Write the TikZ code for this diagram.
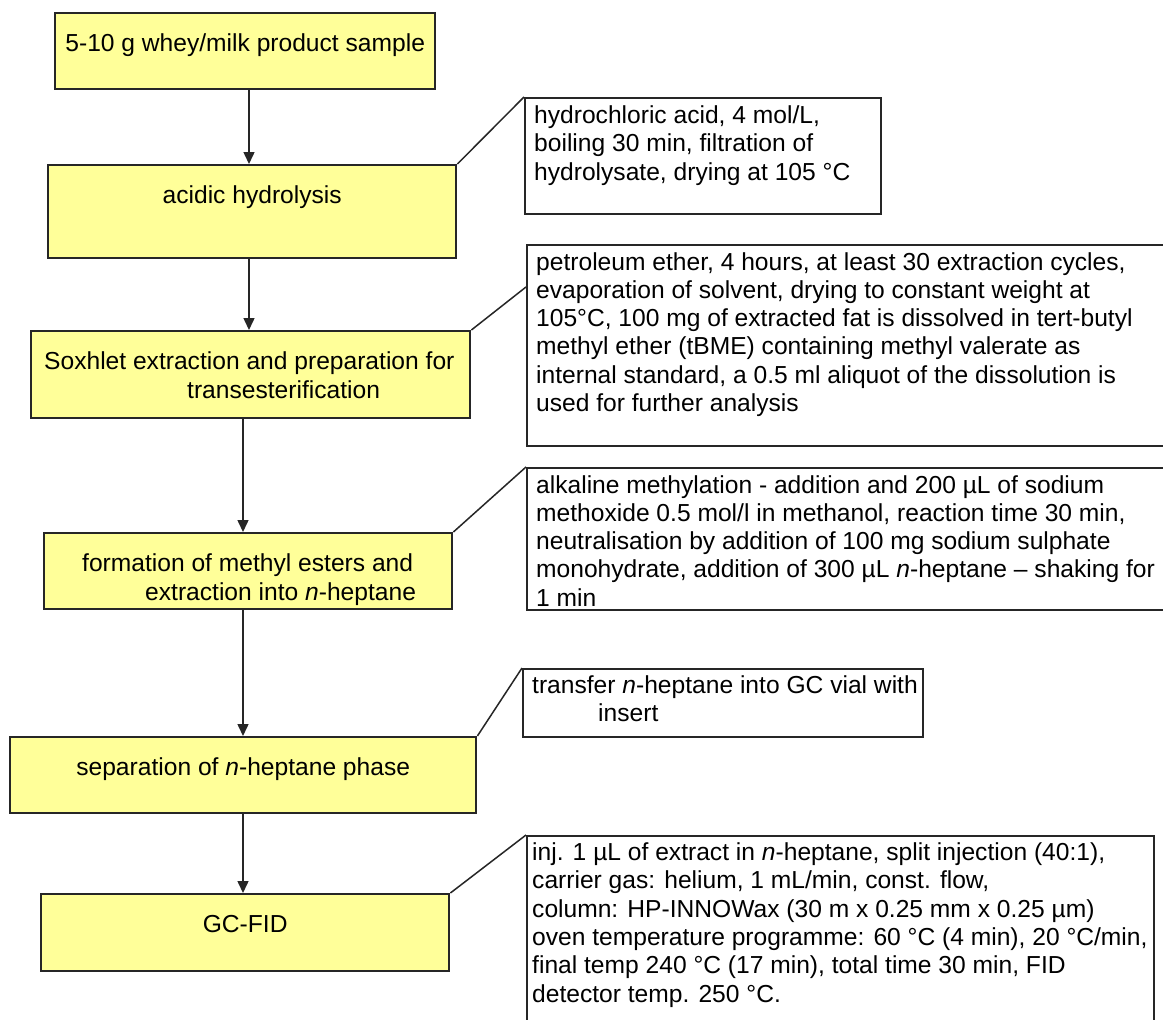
\documentclass[tikz,border=0pt]{standalone}
\usepackage{fontspec}
\setmainfont{Liberation Sans}
\usetikzlibrary{arrows.meta}
\definecolor{ylw}{HTML}{FFFF99}
\definecolor{edge}{HTML}{262626}
\tikzset{
  ybox/.style={draw=edge, fill=ylw, line width=2.4pt, inner sep=0pt, anchor=north west},
  wbox/.style={draw=edge, fill=white, line width=2.4pt, inner sep=0pt, anchor=north west},
  txt/.style={inner sep=0pt, align=left, anchor=north west, font=\fontsize{24.6}{28.3}\selectfont},
  ctxt/.style={inner sep=0pt, align=center, anchor=north, font=\fontsize{24.6}{28.3}\selectfont},
  arr/.style={draw=edge, line width=1.5pt, -{Triangle[length=12pt,width=11pt]}},
  conn/.style={draw=edge, line width=1.5pt},
}
\begin{document}
\begin{tikzpicture}[x=1pt,y=-1pt]
\useasboundingbox[fill=white] (0,0) rectangle (1163,1020);
% main steps
\node[ybox, minimum width=380pt, minimum height=76pt] (b1) at (54,12) {};
\node[ybox, minimum width=408pt, minimum height=93pt] (b2) at (47,164) {};
\node[ybox, minimum width=439pt, minimum height=87pt] (b3) at (30,330) {};
\node[ybox, minimum width=408pt, minimum height=76pt] (b4) at (43,532) {};
\node[ybox, minimum width=466pt, minimum height=76pt] (b5) at (9,736) {};
\node[ybox, minimum width=408pt, minimum height=77pt] (b6) at (40,893) {};
% step texts
\node[ctxt] (t1) at ([yshift=-19.7pt]b1.north) {\strut 5-10 g whey/milk product sample};
\node[ctxt] (t2) at ([yshift=-19.7pt]b2.north) {\strut acidic hydrolysis};
\node[txt] (t3) at ([xshift=14pt,yshift=-19.7pt]b3.north west) {\strut Soxhlet extraction and preparation for\\\hspace*{143pt}transesterification};
\node[txt] (t4) at ([xshift=39pt,yshift=-19.7pt]b4.north west) {\strut formation of methyl esters and\\\hspace*{63pt}extraction into \textit{n}-heptane};
\node[ctxt] (t5) at ([yshift=-19.7pt]b5.north) {\strut separation of \textit{n}-heptane phase};
\node[ctxt] (t6) at ([yshift=-19.7pt]b6.north) {\strut GC-FID};
% arrows
\coordinate (ax1) at (249,0);
\coordinate (ax2) at (243,0);
\draw[arr] (b1.south -| ax1) -- (b2.north -| ax1);
\draw[arr] (b2.south -| ax1) -- (b3.north -| ax1);
\draw[arr] (b3.south -| ax2) -- (b4.north -| ax2);
\draw[arr] (b4.south -| ax2) -- (b5.north -| ax2);
\draw[arr] (b5.south -| ax2) -- (b6.north -| ax2);
% detail boxes
\node[wbox, minimum width=356pt, minimum height=116pt] (wA) at (524,97) {};
\node[wbox, minimum width=660pt, minimum height=201pt] (wB) at (526,244) {};
\node[wbox, minimum width=660pt, minimum height=142pt] (wC) at (526,467) {};
\node[wbox, minimum width=400pt, minimum height=68pt] (wD) at (522,668) {};
\node[wbox, minimum width=627pt, minimum height=200pt] (wE) at (526,835) {};
% detail texts
\node[txt] (dA) at ([xshift=10pt,yshift=-6.5pt]wA.north west) {\strut hydrochloric acid, 4 mol/L,\\boiling 30 min, filtration of\\hydrolysate, drying at 105 °C};
\node[txt] (dB) at ([xshift=10pt,yshift=-6pt]wB.north west) {\strut petroleum ether, 4 hours, at least 30 extraction cycles,\\evaporation of solvent, drying to constant weight at\\105°C, 100 mg of extracted fat is dissolved in tert-butyl\\methyl ether (tBME) containing methyl valerate as\\internal standard, a 0.5 ml aliquot of the dissolution is\\used for further analysis};
\node[txt] (dC) at ([xshift=10pt,yshift=-6pt]wC.north west) {\strut alkaline methylation - addition and 200 µL of sodium\\methoxide 0.5 mol/l in methanol, reaction time 30 min,\\neutralisation by addition of 100 mg sodium sulphate\\monohydrate, addition of 300 µL \textit{n}-heptane – shaking for\\1 min};
\node[txt] (dD) at ([xshift=10pt,yshift=-5.5pt]wD.north west) {\strut transfer \textit{n}-heptane into GC vial with\\\hspace*{66pt}insert};
\node[txt] (dE) at ([xshift=6pt,yshift=-5.5pt]wE.north west) {\strut inj. 1 µL of extract in \textit{n}-heptane, split injection (40:1),\\carrier gas: helium, 1 mL/min, const. flow,\\column: HP-INNOWax (30 m x 0.25 mm x 0.25 µm)\\oven temperature programme: 60 °C (4 min), 20 °C/min,\\final temp 240 °C (17 min), total time 30 min, FID\\detector temp. 250 °C.};
% callout connectors
\coordinate (cB) at ([yshift=-43pt]wB.north west);
\draw[conn] (b2.north east) -- (wA.north west);
\draw[conn] (b3.north east) -- (cB);
\draw[conn] (b4.north east) -- (wC.north west);
\draw[conn] (b5.north east) -- (wD.north west);
\draw[conn] (b6.north east) -- (wE.north west);
\end{tikzpicture}
\end{document}
